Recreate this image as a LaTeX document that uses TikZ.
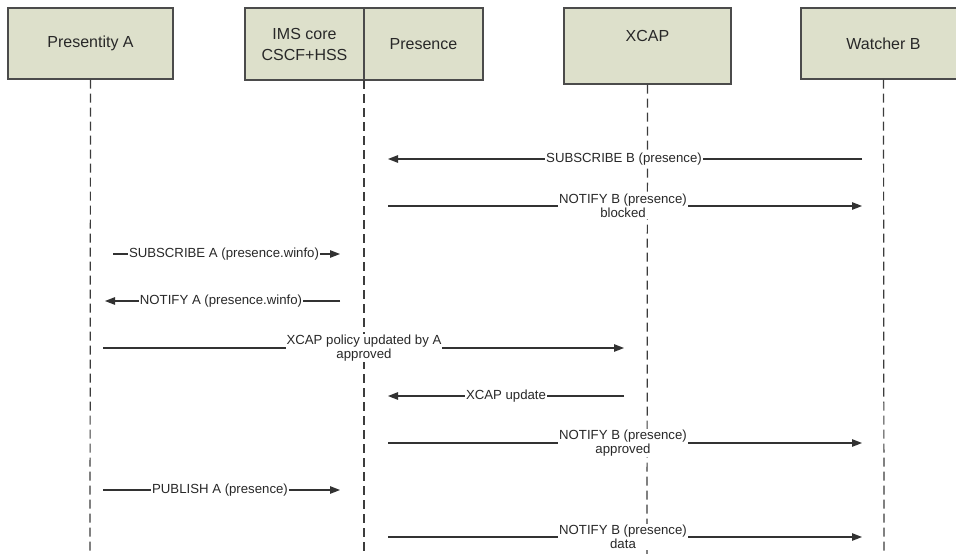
\documentclass[tikz,border=0pt]{standalone}
\usepackage{fontspec}
\setmainfont{Liberation Sans}
\usetikzlibrary{arrows.meta}
\definecolor{boxfill}{RGB}{221,224,203}
\definecolor{boxline}{RGB}{75,75,75}
\definecolor{lifec}{RGB}{60,60,60}
\definecolor{msgc}{RGB}{50,50,50}
\definecolor{txtc}{RGB}{40,40,40}
\begin{document}
\begin{tikzpicture}[x=1pt,y=-1pt,
  actorbox/.style={draw=boxline, line width=1.3pt, fill=boxfill, rectangle,
    inner sep=0pt, align=center, text=txtc, font=\fontsize{16}{21}\selectfont},
  life/.style={draw=lifec, line width=1.2pt, dash pattern=on 9pt off 5pt},
  msg/.style={draw=msgc, line width=1.25pt, -{Triangle[length=10pt,width=7.5pt]}},
  lbl/.style={fill=white, inner sep=1pt, align=center, text=txtc,
    font=\fontsize{13.2}{14.2}\selectfont}]
\useasboundingbox (0,0) rectangle (956,554);
\clip (0,0) rectangle (956,554);
\fill[white] (0,0) rectangle (956,554);

% actors
\node[actorbox, minimum width=165pt, minimum height=71pt] (pa) at (90.5,43.5) {Presentity A};
\node[actorbox, minimum width=119pt, minimum height=72pt] (ims) at (304.5,44) {IMS core\\CSCF+HSS};
\node[actorbox, minimum width=119pt, minimum height=72pt] (pres) at (423.5,44) {Presence};
\node[actorbox, minimum width=167pt, minimum height=76pt, text height=11.5pt, text depth=20pt] (xcap) at (647.5,46) {XCAP};
\node[actorbox, minimum width=165pt, minimum height=71pt] (wb) at (883.5,43.5) {Watcher B};

% lifeline ends
\coordinate (paend) at (90,554);
\coordinate (imstop) at (364,80);
\coordinate (imsend) at (364,554);
\coordinate (xend) at (647,554);
\coordinate (wbend) at (884,554);
\draw[life] (pa.south) -- (paend);
\draw[life] (imstop) -- (imsend);
\draw[life] (xcap.south) -- (xend);
\draw[life] (wb.south) -- (wbend);

% message end points
\coordinate (m1a) at (862,159); \coordinate (m1b) at (388,159);
\coordinate (m2a) at (388,206); \coordinate (m2b) at (862,206);
\coordinate (m3a) at (113,254); \coordinate (m3b) at (340,254);
\coordinate (m4a) at (340,301); \coordinate (m4b) at (105,301);
\coordinate (m5a) at (103,348); \coordinate (m5b) at (624,348);
\coordinate (m6a) at (624,396); \coordinate (m6b) at (388,396);
\coordinate (m7a) at (388,443); \coordinate (m7b) at (862,443);
\coordinate (m8a) at (103,490); \coordinate (m8b) at (340,490);
\coordinate (m9a) at (388,537); \coordinate (m9b) at (862,537);

\draw[msg] (m1a) -- (m1b);
\draw[msg] (m2a) -- (m2b);
\draw[msg] (m3a) -- (m3b);
\draw[msg] (m4a) -- (m4b);
\draw[msg] (m5a) -- (m5b);
\draw[msg] (m6a) -- (m6b);
\draw[msg] (m7a) -- (m7b);
\draw[msg] (m8a) -- (m8b);
\draw[msg] (m9a) -- (m9b);

% labels
\node[lbl] (l1) at (624,159) {SUBSCRIBE B (presence)};
\node[lbl] (l2) at (623,206) {NOTIFY B (presence)\\blocked};
\node[lbl] (l3) at (224,254) {SUBSCRIBE A (presence.winfo)};
\node[lbl] (l4) at (221,301) {NOTIFY A (presence.winfo)};
\node[lbl] (l5) at (364,348) {XCAP policy updated by A\\approved};
\node[lbl] (l6) at (506,396) {XCAP update};
\node[lbl] (l7) at (623,443) {NOTIFY B (presence)\\approved};
\node[lbl] (l8) at (220,490) {PUBLISH A (presence)};
\node[lbl] (l9) at (623,537) {NOTIFY B (presence)\\data};
\end{tikzpicture}
\end{document}
